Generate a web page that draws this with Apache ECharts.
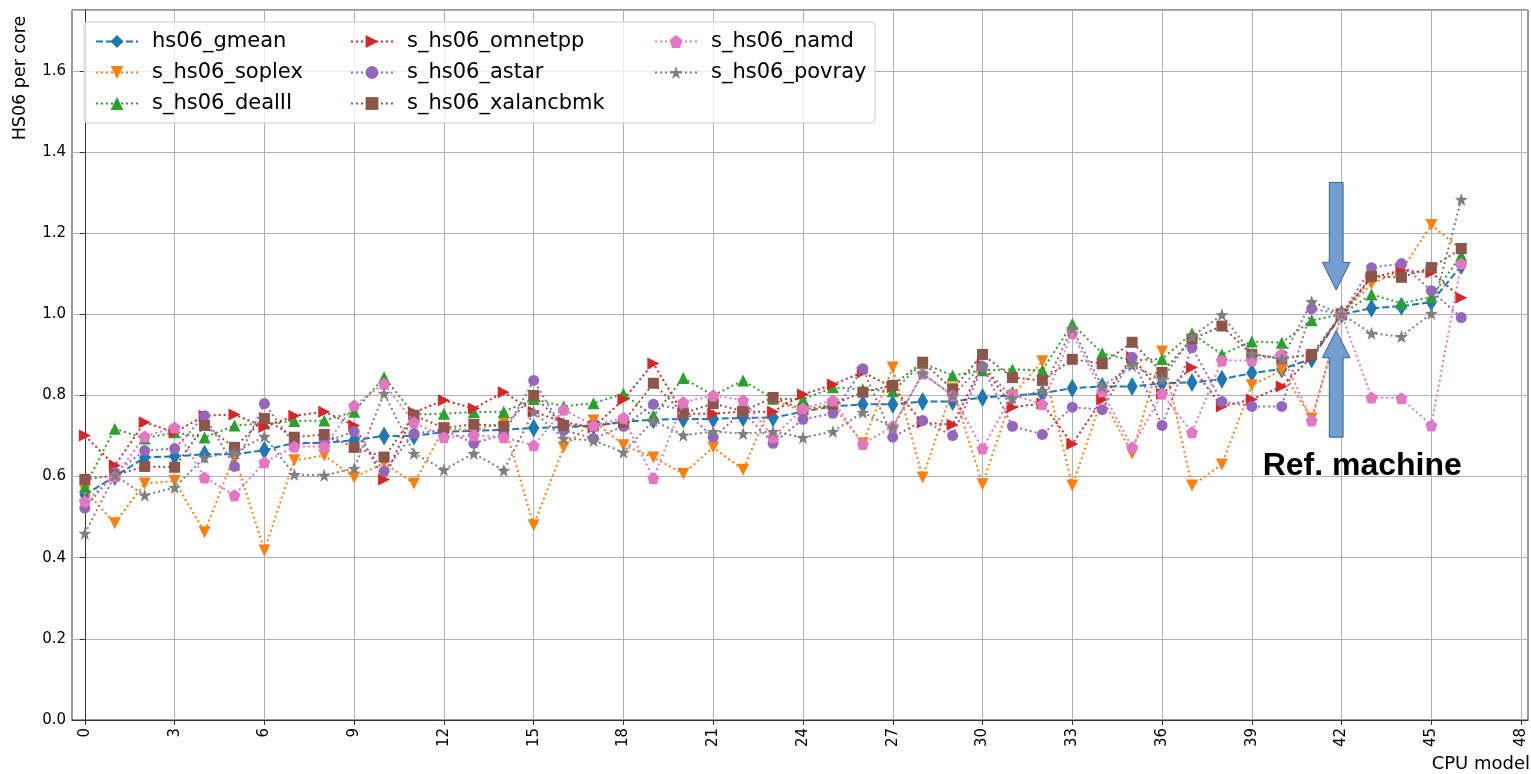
<!DOCTYPE html>
<html>
<head>
<meta charset="utf-8">
<script src="https://cdn.jsdelivr.net/npm/echarts@6/dist/echarts.min.js"></script>
<style>
html,body{margin:0;padding:0;background:#fff}
#chart{width:1531px;height:774px}
</style>
</head>
<body>
<div id="chart"></div>
<script>
// CPU model index on the x axis
const cpuModel = [0,1,2,3,4,5,6,7,8,9,10,11,12,13,14,15,16,17,18,19,20,21,22,23,24,25,26,27,28,29,30,31,32,33,34,35,36,37,38,39,40,41,42,43,44,45,46];
const xTicks = [0,3,6,9,12,15,18,21,24,27,30,33,36,39,42,45,48];
const refModel = 42;

// HS06 per core, normalised to the reference machine
const hs06_gmean = [0.555,0.60,0.647,0.650,0.655,0.655,0.665,0.683,0.683,0.69,0.70,0.70,0.71,0.713,0.715,0.72,0.722,0.725,0.735,0.74,0.742,0.742,0.745,0.745,0.76,0.773,0.778,0.778,0.785,0.785,0.795,0.80,0.805,0.818,0.822,0.822,0.83,0.832,0.84,0.855,0.865,0.89,1.0,1.015,1.02,1.03,1.12];
const s_hs06_soplex = [0.566,0.485,0.583,0.589,0.463,0.652,0.418,0.64,0.652,0.598,0.633,0.583,0.719,0.714,0.733,0.48,0.672,0.738,0.677,0.647,0.607,0.672,0.617,0.79,0.76,0.775,0.682,0.869,0.598,0.817,0.581,0.80,0.884,0.578,0.793,0.657,0.908,0.578,0.63,0.825,0.862,0.743,1.0,1.075,1.108,1.22,1.16];
const s_hs06_dealII = [0.575,0.718,0.694,0.709,0.696,0.726,0.731,0.737,0.738,0.76,0.845,0.753,0.755,0.759,0.76,0.791,0.773,0.781,0.804,0.749,0.843,0.80,0.837,0.792,0.79,0.82,0.815,0.81,0.88,0.849,0.862,0.864,0.862,0.976,0.904,0.886,0.89,0.953,0.901,0.933,0.930,0.985,1.0,1.049,1.027,1.043,1.145];
const s_hs06_omnetpp = [0.701,0.627,0.734,0.709,0.75,0.753,0.722,0.75,0.76,0.726,0.593,0.758,0.788,0.768,0.808,0.76,0.734,0.721,0.79,0.879,0.755,0.755,0.76,0.76,0.802,0.827,0.857,0.82,0.733,0.728,0.875,0.771,0.78,0.68,0.79,0.895,0.804,0.869,0.773,0.79,0.822,0.895,1.0,1.09,1.108,1.103,1.041];
const s_hs06_astar = [0.522,0.61,0.664,0.669,0.75,0.625,0.78,0.68,0.685,0.711,0.613,0.706,0.715,0.682,0.704,0.837,0.714,0.694,0.724,0.778,0.765,0.697,0.76,0.682,0.741,0.756,0.866,0.697,0.738,0.701,0.871,0.724,0.704,0.771,0.765,0.894,0.726,0.918,0.785,0.773,0.773,1.014,1.0,1.115,1.125,1.058,0.992];
const s_hs06_xalancbmk = [0.593,0.603,0.625,0.623,0.726,0.672,0.743,0.697,0.704,0.672,0.648,0.751,0.72,0.729,0.724,0.80,0.726,0.725,0.734,0.83,0.756,0.78,0.761,0.795,0.765,0.778,0.808,0.825,0.882,0.815,0.901,0.844,0.837,0.889,0.878,0.931,0.857,0.939,0.971,0.901,0.891,0.901,1.0,1.093,1.091,1.115,1.162];
const s_hs06_namd = [0.539,0.60,0.699,0.721,0.598,0.554,0.635,0.674,0.674,0.775,0.829,0.734,0.697,0.702,0.697,0.677,0.765,0.726,0.745,0.596,0.783,0.80,0.788,0.697,0.768,0.788,0.68,0.724,0.854,0.80,0.669,0.802,0.778,0.953,0.81,0.672,0.804,0.709,0.886,0.886,0.903,0.738,1.0,0.795,0.793,0.726,1.125];
const s_hs06_povray = [0.46,0.603,0.554,0.573,0.647,0.66,0.699,0.605,0.603,0.62,0.805,0.657,0.617,0.657,0.615,0.76,0.694,0.689,0.66,0.738,0.702,0.711,0.706,0.711,0.696,0.711,0.758,0.721,0.854,0.80,0.874,0.793,0.812,0.965,0.822,0.874,0.839,0.945,0.999,0.903,0.889,1.031,1.0,0.953,0.945,1.002,1.283];

const FONT = '"DejaVu Sans", sans-serif';
const PENTAGON = 'path://M0,-10L9.51,-3.09L5.88,8.09L-5.88,8.09L-9.51,-3.09Z';
const STAR = 'path://M0,-10L2.35,-3.24L9.51,-3.09L3.8,1.24L5.88,8.09L0,4L-5.88,8.09L-3.8,1.24L-9.51,-3.09L-2.35,-3.24Z';

const seriesDefs = [
  {name: 'hs06_gmean', data: hs06_gmean, color: '#1f77b4', symbol: 'diamond', size: [11, 19], rotate: 0, dash: [7, 3]},
  {name: 's_hs06_soplex', data: s_hs06_soplex, color: '#ff7f0e', symbol: 'triangle', size: 12, rotate: 180, dash: [2, 3]},
  {name: 's_hs06_dealII', data: s_hs06_dealII, color: '#2ca02c', symbol: 'triangle', size: 12, rotate: 0, dash: [2, 3]},
  {name: 's_hs06_omnetpp', data: s_hs06_omnetpp, color: '#d62728', symbol: 'triangle', size: 12, rotate: -90, dash: [2, 3]},
  {name: 's_hs06_astar', data: s_hs06_astar, color: '#9467bd', symbol: 'circle', size: 11, rotate: 0, dash: [2, 3]},
  {name: 's_hs06_xalancbmk', data: s_hs06_xalancbmk, color: '#8c564b', symbol: 'rect', size: 11, rotate: 0, dash: [2, 3]},
  {name: 's_hs06_namd', data: s_hs06_namd, color: '#e377c2', symbol: PENTAGON, size: 12, rotate: 0, dash: [2, 3]},
  {name: 's_hs06_povray', data: s_hs06_povray, color: '#7f7f7f', symbol: STAR, size: 13, rotate: 0, dash: [2, 3]}
];

const series = seriesDefs.map((d, k) => ({
  name: d.name,
  type: 'line',
  data: cpuModel.map((x, i) => [x, d.data[i]]),
  symbol: d.symbol,
  symbolSize: d.size,
  symbolRotate: d.rotate,
  showAllSymbol: true,
  color: d.color,
  itemStyle: {color: d.color, opacity: 1},
  lineStyle: {color: d.color, width: 2, type: d.dash},
  z: 2 + k,
  animation: false,
  emphasis: {disabled: true}
}));

const legendCommon = {
  orient: 'vertical',
  itemWidth: 42,
  itemHeight: 16,
  itemGap: 10,
  top: 26,
  textStyle: {fontFamily: FONT, fontSize: 21, color: '#000', padding: [0, 0, 0, 9]},
  selectedMode: false,
  z: 20
};

const chart = echarts.init(document.getElementById('chart'), null, {renderer: 'canvas'});
chart.setOption({
  animation: false,
  backgroundColor: '#fff',
  grid: {left: 72, right: 3, top: 10, bottom: 54, show: true, borderColor: '#333', borderWidth: 1, backgroundColor: 'transparent'},
  xAxis: {
    type: 'value',
    min: -0.43,
    max: 48.23,
    axisLine: {show: true, lineStyle: {color: '#333', width: 1}},
    axisTick: {show: true, length: 5, customValues: xTicks, lineStyle: {color: '#333'}},
    axisLabel: {customValues: xTicks, rotate: 90, fontFamily: FONT, fontSize: 15, color: '#000', margin: 8},
    splitLine: {show: true, lineStyle: {color: '#b0b0b0', width: 1}}
  },
  yAxis: {
    type: 'value',
    min: 0,
    max: 1.75,
    interval: 0.2,
    axisLine: {show: true, lineStyle: {color: '#333', width: 1}},
    axisTick: {show: true, length: 5, lineStyle: {color: '#333'}},
    axisLabel: {fontFamily: FONT, fontSize: 15, color: '#000', margin: 6, showMaxLabel: false,
      formatter: v => v.toFixed(1)},
    splitLine: {show: true, lineStyle: {color: '#b0b0b0', width: 1}}
  },
  legend: [
    Object.assign({left: 90, data: ['hs06_gmean', 's_hs06_soplex', 's_hs06_dealII']}, legendCommon),
    Object.assign({left: 345, data: ['s_hs06_omnetpp', 's_hs06_astar', 's_hs06_xalancbmk']}, legendCommon),
    Object.assign({left: 649, data: ['s_hs06_namd', 's_hs06_povray']}, legendCommon)
  ],
  series: series
});

// Annotations: legend frame, axis titles, reference-machine arrows and caption
function px(x, y) { return chart.convertToPixel({gridIndex: 0}, [x, y]); }
function arrow(xc, yTail, yHeadBase, yTip, shaftHalf, headHalf) {
  const pts = [
    [xc - shaftHalf, yTail], [xc + shaftHalf, yTail], [xc + shaftHalf, yHeadBase],
    [xc + headHalf, yHeadBase], [xc, yTip], [xc - headHalf, yHeadBase], [xc - shaftHalf, yHeadBase]
  ];
  return {
    type: 'polygon',
    z: 30,
    shape: {points: pts.map(p => px(p[0], p[1]))},
    style: {fill: '#729fcf', stroke: '#3a5f94', lineWidth: 1}
  };
}
const arrowX = refModel - 0.18;
const captionPos = px(refModel + 0.69, 0.625);
chart.setOption({
  graphic: [
    {type: 'rect', z: 15, shape: {x: 84, y: 22, width: 791, height: 101, r: 4},
      style: {fill: 'rgba(255,255,255,0.8)', stroke: '#cccccc', lineWidth: 1}},
    {type: 'text', z: 30, x: 20, y: 78, rotation: Math.PI / 2,
      style: {text: 'HS06 per core', fontFamily: FONT, fontSize: 17.5, fill: '#000', align: 'center', verticalAlign: 'middle'}},
    {type: 'text', z: 30, x: 1530, y: 764,
      style: {text: 'CPU model', fontFamily: FONT, fontSize: 18, fill: '#000', align: 'right', verticalAlign: 'middle'}},
    arrow(arrowX, 1.325, 1.128, 1.06, 0.23, 0.46),
    arrow(arrowX, 0.697, 0.893, 0.96, 0.23, 0.46),
    {type: 'text', z: 30, x: captionPos[0], y: captionPos[1],
      style: {text: 'Ref. machine', fontFamily: '"Liberation Sans", Arial, sans-serif', fontWeight: 'bold', fontSize: 32, fill: '#000', align: 'center', verticalAlign: 'middle'}}
  ]
});
</script>
</body>
</html>
